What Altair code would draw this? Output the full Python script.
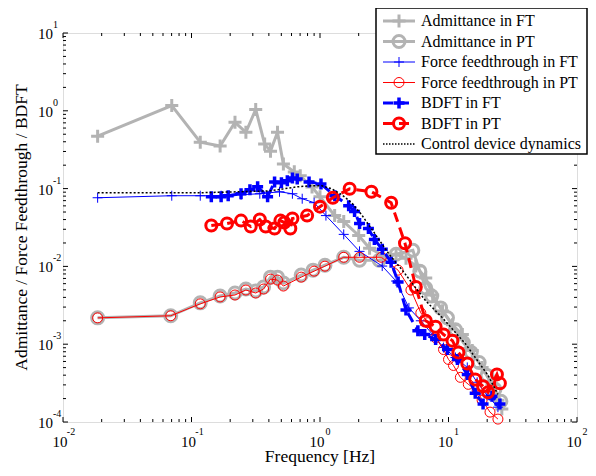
import altair as alt
import pandas as pd

# ---------------- data ----------------
adm_ft_f = [0.0186, 0.0702, 0.117, 0.167, 0.218, 0.265, 0.316, 0.371, 0.412, 0.467, 0.519, 0.631,
            0.702, 0.867, 1.0, 1.30, 1.53, 2.0, 2.43, 3.11, 3.91, 4.67, 5.57, 6.65, 7.53, 8.99,
            10.74, 12.82, 15.3, 18.26, 21.79, 24.25, 26.0]
adm_ft_v = [0.472, 1.17, 0.395, 0.352, 0.711, 0.530, 1.04, 0.373, 0.303, 0.530, 0.207, 0.164,
            0.146, 0.105, 0.0786, 0.045, 0.0377, 0.025, 0.0171, 0.0139, 0.0143, 0.0127, 0.0101,
            0.00707, 0.00429, 0.00268, 0.00178, 0.00133, 0.000829, 0.000503, 0.000305, 0.000191,
            0.000147]

adm_pt_f = [0.0186, 0.0689, 0.117, 0.167, 0.218, 0.265, 0.316, 0.364, 0.412, 0.467, 0.519, 0.714,
            0.883, 1.093, 1.53, 2.03, 2.89, 3.91, 5.28, 5.98, 6.65, 7.40, 8.68, 9.82, 11.33, 13.04,
            15.03, 17.31, 19.95, 22.99, 25.57]
adm_pt_v = [0.00218, 0.00232, 0.0034, 0.00417, 0.00455, 0.00512, 0.00483, 0.00543, 0.00728,
            0.00728, 0.0061, 0.00773, 0.00895, 0.01035, 0.0131, 0.0120, 0.0120, 0.0143, 0.0161,
            0.00869, 0.00527, 0.00417, 0.00293, 0.00218, 0.00153, 0.00105, 0.000782, 0.000582,
            0.000397, 0.000264, 0.000185]

ff_ft_f = [0.0186, 0.0702, 0.117, 0.170, 0.243, 0.340, 0.484, 0.610, 0.727, 0.900, 1.112, 1.53,
           2.03, 3.05, 3.91, 4.92, 6.09, 7.53, 9.15, 11.33, 14.0, 16.72, 19.95, 24.25]
ff_ft_v = [0.0763, 0.081, 0.081, 0.081, 0.0834, 0.0859, 0.091, 0.0859, 0.0741, 0.0659, 0.045,
           0.0258, 0.0156, 0.0101, 0.00648, 0.00293, 0.0020, 0.00133, 0.000906, 0.000675,
           0.000503, 0.000324, 0.000221, 0.000155]

ff_pt_f = [0.0186, 0.0689, 0.117, 0.167, 0.218, 0.265, 0.316, 0.364, 0.412, 0.467, 0.519, 0.714,
           0.900, 1.093, 1.53, 2.03, 3.0, 4.05, 5.10, 6.09, 6.89, 7.94, 9.15, 10.0, 10.93, 12.37,
           14.26, 16.72, 18.26, 21.04, 24.25]
ff_pt_v = [0.00218, 0.00232, 0.0033, 0.00405, 0.00429, 0.00497, 0.00455, 0.00512, 0.00687,
           0.00667, 0.00559, 0.00728, 0.00869, 0.01007, 0.0131, 0.0131, 0.0131, 0.00895, 0.00497,
           0.00253, 0.00189, 0.00121, 0.000854, 0.000637, 0.000533, 0.000375, 0.000305,
           0.000256, 0.000191, 0.000134, 0.000109]

bd_ft_f = [0.1426, 0.170, 0.193, 0.243, 0.285, 0.327, 0.391, 0.443, 0.501, 0.557, 0.610, 0.665,
           0.822, 1.018, 1.304, 1.671, 1.858, 2.031, 2.382, 2.649, 3.052, 3.578, 4.053, 4.668,
           5.775, 6.53, 7.94, 9.82, 11.73, 14.0, 16.14, 18.58, 21.79, 25.12]
bd_ft_v = [0.0786, 0.0786, 0.081, 0.0859, 0.0966, 0.1054, 0.0786, 0.122, 0.1186, 0.1257, 0.137,
           0.133, 0.122, 0.115, 0.081, 0.0604, 0.0506, 0.0356, 0.0307, 0.0222, 0.0166, 0.0113,
           0.00629, 0.00276, 0.00149, 0.00133, 0.00115, 0.000854, 0.000637, 0.000409, 0.000234,
           0.00017, 0.000215, 0.00017]

bd_pt_f = [0.1426, 0.189, 0.243, 0.289, 0.340, 0.378, 0.443, 0.492, 0.528, 0.5875, 0.610, 0.794,
           1.0, 1.259, 1.701, 2.512, 3.578, 4.587, 5.57, 6.65, 7.94, 9.15, 10.74, 11.94, 14.0,
           16.14, 18.58, 20.31, 23.82, 25.12]
bd_pt_v = [0.0336, 0.0356, 0.0388, 0.0326, 0.040, 0.0326, 0.0307, 0.0388, 0.0366, 0.0307, 0.0412,
           0.045, 0.0586, 0.0763, 0.0994, 0.091, 0.0659, 0.0198, 0.00543, 0.0020, 0.00168,
           0.00133, 0.00111, 0.000782, 0.000566, 0.000353, 0.000288, 0.000241, 0.000409,
           0.000314]

cd_f = [0.0186, 0.0467, 0.113, 0.230, 0.412, 0.665, 0.838, 1.036, 1.237, 1.476, 1.762, 2.104,
        2.60, 3.454, 4.43, 5.57, 6.65, 8.99, 13.51, 20.31, 24.25]
cd_v = [0.0884, 0.0884, 0.0884, 0.091, 0.0937, 0.1054, 0.1086, 0.1086, 0.0994, 0.0834, 0.0659,
        0.0463, 0.0281, 0.0143, 0.00869, 0.00527, 0.0036, 0.00218, 0.00102, 0.000397, 0.000226]

legend_labels = ["Admittance in FT", "Admittance in PT", "Force feedthrough in FT",
                 "Force feedthrough in PT", "BDFT in FT", "BDFT in PT", "Control device dynamics"]

x_major = [0.01, 0.1, 1, 10, 100]
x_exp = ["-2", "-1", "0", "1", "2"]
y_major = [1e-4, 1e-3, 1e-2, 1e-1, 1, 10]
y_exp = ["-4", "-3", "-2", "-1", "0", "1"]
x_minor = [k * 10.0 ** e for e in range(-2, 2) for k in range(2, 10)]
y_minor = [k * 10.0 ** e for e in range(-4, 1) for k in range(2, 10)]

# ---------------- styling ----------------
W, H = 514, 389
FONT = "Liberation Serif"
GRAY, BLUE, RED = "#b3b3b3", "#0000ff", "#ff0000"
PLUS = "M-1,0L1,0M0,-1L0,1"

xs = alt.Scale(type="log", domain=[0.01, 100], nice=False)
ys = alt.Scale(type="log", domain=[1e-4, 10], nice=False)

styles = [
    # f, v, color, line width, dash, shape, size, marker stroke
    (adm_ft_f, adm_ft_v, GRAY, 3, None, PLUS, 170, 3),
    (adm_pt_f, adm_pt_v, GRAY, 3, None, "circle", 144, 3),
    (ff_ft_f, ff_ft_v, BLUE, 1, None, PLUS, 100, 1),
    (ff_pt_f, ff_pt_v, RED, 1, None, "circle", 100, 1),
    (bd_ft_f, bd_ft_v, BLUE, 3, [10, 6], PLUS, 121, 3.5),
    (bd_pt_f, bd_pt_v, RED, 3, [10, 6], "circle", 121, 3),
    (cd_f, cd_v, "black", 1.5, [2, 2], None, 0, 0),
]

layers = []

# ticks (inside, all four sides)
def tick_layers(vals, length, axis):
    d = pd.DataFrame({"t": vals})
    c = alt.Chart(d)
    out = []
    if axis == "x":
        enc = dict(x=alt.X("t:Q", scale=xs, axis=None))
        out.append(c.mark_rule(color="black", strokeWidth=1).encode(**enc, y=alt.value(H), y2=alt.value(H - length)))
        out.append(c.mark_rule(color="black", strokeWidth=1).encode(**enc, y=alt.value(0), y2=alt.value(length)))
    else:
        enc = dict(y=alt.Y("t:Q", scale=ys, axis=None))
        out.append(c.mark_rule(color="black", strokeWidth=1).encode(**enc, x=alt.value(0), x2=alt.value(length)))
        out.append(c.mark_rule(color="black", strokeWidth=1).encode(**enc, x=alt.value(W), x2=alt.value(W - length)))
    return out

layers += tick_layers(x_major, 5, "x")
layers += tick_layers(x_minor, 3, "x")
layers += tick_layers(y_major, 5, "y")
layers += tick_layers(y_minor, 3, "y")

# series
for f, v, color, lw, dash, shape, size, mw in styles:
    d = pd.DataFrame({"f": f, "v": v})
    base = alt.Chart(d).encode(x=alt.X("f:Q", scale=xs, axis=None),
                               y=alt.Y("v:Q", scale=ys, axis=None))
    kw = dict(color=color, strokeWidth=lw)
    if dash:
        kw["strokeDash"] = dash
    layers.append(base.mark_line(**kw))
    if shape:
        layers.append(base.mark_point(shape=shape, size=size, filled=False, color=color,
                                      strokeWidth=mw, opacity=1))

# tick labels
xl = pd.DataFrame({"t": x_major, "e": x_exp})
layers.append(alt.Chart(xl).mark_text(text="10", font=FONT, fontSize=15, align="center",
                                      baseline="middle", dx=-3).encode(
    x=alt.X("t:Q", scale=xs, axis=None), y=alt.value(H + 20)))
layers.append(alt.Chart(xl).mark_text(font=FONT, fontSize=10, align="center",
                                      baseline="middle", dx=8).encode(
    x=alt.X("t:Q", scale=xs, axis=None), y=alt.value(H + 10), text="e:N"))
yl = pd.DataFrame({"t": y_major, "e": y_exp})
layers.append(alt.Chart(yl).mark_text(text="10", font=FONT, fontSize=15, align="right",
                                      baseline="middle", dy=1).encode(
    y=alt.Y("t:Q", scale=ys, axis=None), x=alt.value(-10)))
layers.append(alt.Chart(yl).mark_text(font=FONT, fontSize=10, align="left",
                                      baseline="middle", dy=-8).encode(
    y=alt.Y("t:Q", scale=ys, axis=None), x=alt.value(-10), text="e:N"))

one = pd.DataFrame({"a": [0]})
# axis titles
layers.append(alt.Chart(one).mark_text(text="Frequency [Hz]", font=FONT, fontSize=17.5,
                                       align="center", baseline="middle").encode(
    x=alt.value(W / 2), y=alt.value(H + 35)))
layers.append(alt.Chart(one).mark_text(text="Admittance / Force Feedthrough / BDFT", font=FONT,
                                       fontSize=17.5, align="center", baseline="middle",
                                       angle=270).encode(
    x=alt.value(-41), y=alt.value(H / 2)))

# legend
LX0, LX1, LY0, LY1 = 313, 524, -25, 121
layers.append(alt.Chart(one).mark_rect(fill="white", stroke="black", strokeWidth=1.5).encode(
    x=alt.value(LX0), x2=alt.value(LX1), y=alt.value(LY0), y2=alt.value(LY1)))
for i, (lab, st) in enumerate(zip(legend_labels, styles)):
    _, _, color, lw, dash, shape, size, mw = st
    ry = -12 + i * 20.5
    kw = dict(color=color, strokeWidth=lw)
    if dash:
        kw["strokeDash"] = dash if dash != [2, 2] else [1.5, 1.5]
    layers.append(alt.Chart(one).mark_rule(**kw).encode(
        x=alt.value(320), x2=alt.value(352), y=alt.value(ry)))
    if shape:
        layers.append(alt.Chart(one).mark_point(shape=shape, size=size, filled=False, color=color,
                                                strokeWidth=mw, opacity=1).encode(
            x=alt.value(336), y=alt.value(ry)))
    layers.append(alt.Chart(one).mark_text(text=lab, font=FONT, fontSize=16, align="left",
                                           baseline="middle").encode(
        x=alt.value(358), y=alt.value(ry)))

chart = alt.layer(*layers).properties(
    width=W, height=H,
    autosize=alt.AutoSizeParams(type="none"),
    padding={"left": 55, "top": 25, "right": 11, "bottom": 46},
).configure_view(stroke="black", strokeWidth=1.5).configure(background="white")

chart.save("out.html", embed_options={"renderer": "svg", "actions": False})
